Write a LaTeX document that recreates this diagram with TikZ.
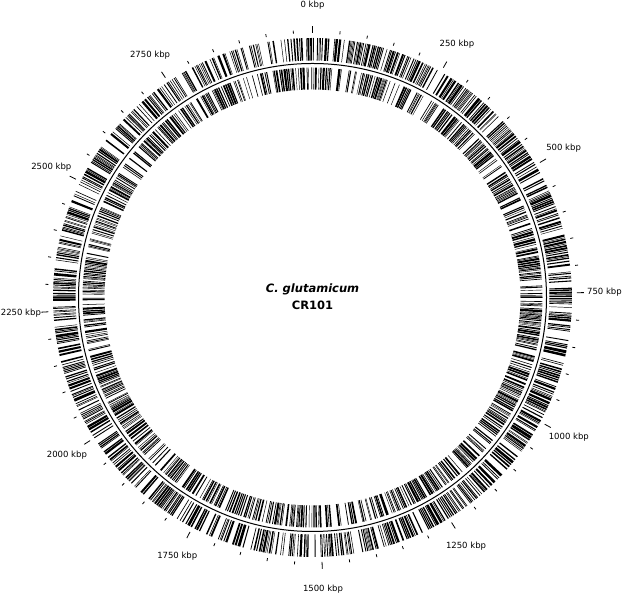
\documentclass[tikz,border=0pt]{standalone}
\usepackage{fontspec}
\setmainfont{DejaVu Sans}[BoldFont={DejaVu Sans Bold},ItalicFont={DejaVu Sans Oblique},BoldItalicFont={DejaVu Sans Bold Oblique}]
\newcommand\glen{3035}
\newcommand\degper{0.1186161}
\newcommand\gtrack[3]{%
  \pgfmathsetseed{#1}%
  \def\gp{0}%
  \loop
    \pgfmathsetmacro\gs{\gp + 0.9 + 14*rnd*rnd*rnd + (rnd<0.05 ? 10 : 0)}%
    \pgfmathsetmacro\ge{min(\gs + 0.8 + 5*rnd*rnd, \glen)}%
    \pgfmathsetmacro\as{90-\gs*\degper}%
    \pgfmathsetmacro\ae{90-\ge*\degper}%
    \fill[genebar] (\as:#2) -- (\as:#3) -- (\ae:#3) -- (\ae:#2) -- cycle;%
    \let\gp\ge
  \ifdim\gp pt<3032pt\repeat
}
\tikzset{
  genebar/.style={fill=black},
  ticklbl/.style={font=\fontsize{8.5}{10}\selectfont, inner sep=0pt, anchor=center},
  tickline/.style={line width=0.8pt, black},
  baseline/.style={line width=1pt, black}
}
\begin{document}
\begin{tikzpicture}[x=1pt,y=1pt]
\useasboundingbox (0,0) rectangle (624,596);
\fill[white] (0,0) rectangle (624,596);
\coordinate (c) at (312.5,298.5);
\begin{scope}[shift={(c)}]
  % gene tracks
  \gtrack{7}{237}{259.5}
  \gtrack{19}{208}{230}
  % base circle
  \draw[baseline] (0,0) circle[radius=234];
  % ticks
  \foreach \k in {0,50,...,3000}{
    \pgfmathsetmacro\ta{90-\k*\degper}
    \pgfmathtruncatemacro\ismaj{(mod(\k,250)==0 && \k<3000) ? 1 : 0}
    \ifnum\ismaj=1
      \draw[tickline] (\ta:264.5) -- (\ta:271.5);
      \node[ticklbl] (lbl\k) at (\ta:292) {\k\ kbp};
    \else
      \draw[tickline] (\ta:264.5) -- (\ta:267.5);
    \fi
  }
  \node[font=\fontsize{11.5}{14}\selectfont\bfseries\itshape, inner sep=0pt] (name) at (0,8.5) {C. glutamicum};
  \node[font=\fontsize{11.5}{14}\selectfont\bfseries, inner sep=0pt] (strain) at (0,-7.5) {CR101};
\end{scope}
\end{tikzpicture}
\end{document}
